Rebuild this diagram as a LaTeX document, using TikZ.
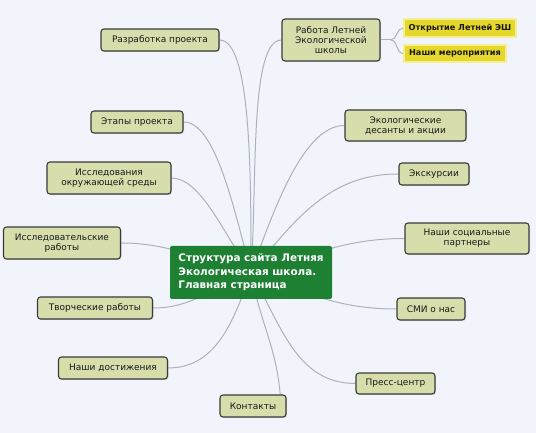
\documentclass[tikz,border=0pt]{standalone}
\usepackage{fontspec}
\setmainfont{DejaVu Sans}
\usetikzlibrary{positioning, backgrounds, shadows}
\definecolor{cBg}{RGB}{241,244,250}
\definecolor{cT}{RGB}{215,222,172}
\definecolor{cB}{RGB}{58,58,58}
\definecolor{cG}{RGB}{30,128,50}
\definecolor{cY}{RGB}{230,216,42}
\definecolor{cYg}{RGB}{245,238,150}
\definecolor{cL}{RGB}{172,176,192}

\begin{document}
\begin{tikzpicture}[x=1pt, y=1pt, thick,
    topic/.style={fill=cT, draw=cB, line width=1.1pt, rounded corners=3pt, align=center,
                  inner sep=2pt, text=black!90, font=\fontsize{9}{10}\selectfont,
                  drop shadow={opacity=0.25, shadow xshift=1pt, shadow yshift=-1pt}},
    sub/.style={fill=cY, draw=cYg, line width=1.5pt, inner sep=2pt, text=black!90,
                font=\bfseries\fontsize{8.2}{9}\selectfont},
    root/.style={fill=cG, text=white, rounded corners=2pt, align=left, minimum width=162pt,
                 minimum height=53pt, inner sep=2pt, font=\bfseries\fontsize{10.4}{13.5}\selectfont},
    link/.style={draw=cL, line width=1pt}]

    \useasboundingbox (0,0) rectangle (536,433);
    \begin{scope}[on background layer]
        \fill[cBg] (0,0) rectangle (536,433);
    \end{scope}

    % Central page
    \node[root] (main) at (251,160.5) {Структура сайта Летняя\\Экологическая школа.\\Главная страница};

    % Left branch
    \node[topic, minimum width=118pt, minimum height=22pt] (razr) at (160,393) {Разработка проекта};
    \node[topic, minimum width=92pt, minimum height=22pt] (etapy) at (137,311) {Этапы проекта};
    \node[topic, minimum width=124pt, minimum height=32pt] (issl) at (109,255) {Исследования\\окружающей среды};
    \node[topic, minimum width=117pt, minimum height=32pt] (isslr) at (62,190) {Исследовательские\\работы};
    \node[topic, minimum width=115pt, minimum height=22pt] (tvor) at (95,125) {Творческие работы};
    \node[topic, minimum width=109pt, minimum height=22pt] (dost) at (113,65) {Наши достижения};
    \node[topic, minimum width=66pt, minimum height=22pt] (kont) at (253,27) {Контакты};

    % Right branch
    \node[topic, minimum width=98pt, minimum height=42pt] (rabota) at (331,393) {Работа Летней\\Экологической\\школы};
    \node[sub, minimum width=112pt, minimum height=18pt] (otkr) at (460,405) {Открытие Летней ЭШ};
    \node[sub, minimum width=102pt, minimum height=17pt] (merop) at (455,379.5) {Наши мероприятия};
    \node[topic, minimum width=121pt, minimum height=31pt] (desant) at (405.5,307.5) {Экологические\\десанты и акции};
    \node[topic, minimum width=70pt, minimum height=22pt] (eksk) at (434,259) {Экскурсии};
    \node[topic, minimum width=124pt, minimum height=31pt] (partn) at (467,194.5) {Наши социальные\\партнеры};
    \node[topic, minimum width=68pt, minimum height=22pt] (smi) at (431,124) {СМИ о нас};
    \node[topic, minimum width=79pt, minimum height=21pt] (press) at (395.5,49.5) {Пресс-центр};

    \coordinate[right=10pt of rabota.east] (rj);

    % Connectors
    \begin{scope}[on background layer]
    \path[link]
    (main.center) edge [out=90, in=0, in looseness=0.35] (razr.east)
                  edge [out=105, in=0, in looseness=0.5] (etapy.east)
                  edge [out=125, in=0, in looseness=0.6] (issl.east)
                  edge [out=168, in=0] (isslr.east)
                  edge [out=200, in=0] (tvor.east)
                  edge [out=250, in=0] (dost.east)
                  edge [out=-80, in=95] (kont.23)
                  edge [out=86, in=180, in looseness=0.35] (rabota.west)
                  edge [out=70, in=180, in looseness=0.6] (desant.west)
                  edge [out=50, in=180] (eksk.west)
                  edge [out=15, in=180] (partn.west)
                  edge [out=-20, in=180] (smi.west)
                  edge [out=-60, in=180] (press.west)
    (rabota.east) edge (rj)
    (rj) edge [out=0, in=180] (otkr.west)
         edge [out=0, in=180] (merop.west);
    \end{scope}

\end{tikzpicture}
\end{document}
